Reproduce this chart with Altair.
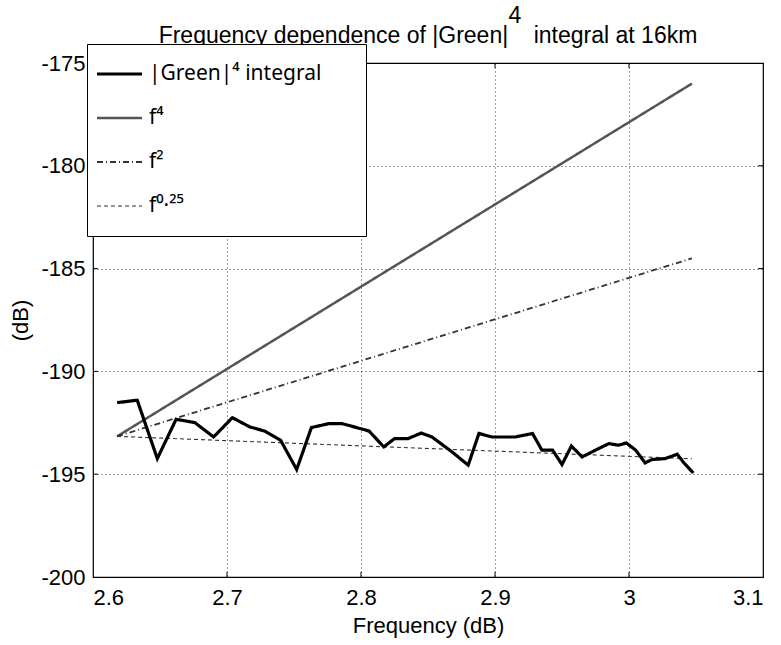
import altair as alt
import pandas as pd

FONT = "Liberation Sans"

# |Green|^4 integral (dB) vs frequency (dB)
green_x = [2.618, 2.633, 2.648, 2.662, 2.676, 2.690, 2.704, 2.717, 2.728, 2.740,
           2.752, 2.763, 2.776, 2.786, 2.806, 2.817, 2.825, 2.835, 2.845, 2.853,
           2.868, 2.880, 2.888, 2.898, 2.915, 2.928, 2.935, 2.943, 2.950, 2.957,
           2.965, 2.975, 2.985, 2.992, 2.998, 3.005, 3.012, 3.017, 3.027, 3.036,
           3.041, 3.048]
green_y = [-191.52, -191.40, -194.24, -192.33, -192.49, -193.19, -192.25, -192.70, -192.90, -193.35,
           -194.77, -192.73, -192.54, -192.54, -192.90, -193.67, -193.27, -193.27, -193.00, -193.19,
           -193.92, -194.56, -193.02, -193.19, -193.19, -193.02, -193.83, -193.83, -194.53, -193.63,
           -194.16, -193.83, -193.51, -193.59, -193.48, -193.83, -194.45, -194.29, -194.24, -194.03,
           -194.45, -194.94]

# reference power-law lines (straight in dB-dB), end points
ref_x = [2.618, 3.047]
f4_y = [-193.16, -176.0]
f2_y = [-193.16, -184.5]
f025_y = [-193.16, -194.25]

series_names = ["|Green|\u2074 integral", "f\u2074", "f\u00b2", "f\u2070\u00b7\u00b2\u2075"]

title_main = "Frequency dependence of |Green|\u00a0\u00a0\u00a0\u00a0integral at 16km"
title_sup = "4"

x_ticks = [2.6, 2.7, 2.8, 2.9, 3.0, 3.1]
y_ticks = [-200, -195, -190, -185, -180, -175]
x_domain = [2.6, 3.1]
y_domain = [-200, -175]

rows = []
for name, xs, ys in [
    (series_names[1], ref_x, f4_y),
    (series_names[2], ref_x, f2_y),
    (series_names[3], ref_x, f025_y),
    (series_names[0], green_x, green_y),
]:
    for i, (xv, yv) in enumerate(zip(xs, ys)):
        rows.append({"series": name, "x": xv, "y": yv, "i": i})
df = pd.DataFrame(rows)

# inward tick marks (MATLAB style) on all four sides
TX = 0.0037   # tick length in x units (~5 px)
TY = 0.25     # tick length in y units (~5 px)
tick_rows = []
for v in x_ticks[1:-1]:
    tick_rows.append({"x": v, "x2": v, "y": y_domain[0], "y2": y_domain[0] + TY})
    tick_rows.append({"x": v, "x2": v, "y": y_domain[1], "y2": y_domain[1] - TY})
for v in y_ticks[1:-1]:
    tick_rows.append({"x": x_domain[0], "x2": x_domain[0] + TX, "y": v, "y2": v})
    tick_rows.append({"x": x_domain[1], "x2": x_domain[1] - TX, "y": v, "y2": v})
ticks_df = pd.DataFrame(tick_rows)

xscale = alt.Scale(domain=x_domain, nice=False, zero=False)
yscale = alt.Scale(domain=y_domain, nice=False, zero=False)

LEG_TITLE = "."

lines = alt.Chart(df).mark_line(clip=True).encode(
    x=alt.X("x:Q", title="Frequency (dB)", scale=xscale,
            axis=alt.Axis(values=x_ticks, labelExpr="toString(datum.value)",
                          labelPadding=10, titlePadding=7)),
    y=alt.Y("y:Q", title="(dB)", scale=yscale,
            axis=alt.Axis(values=y_ticks, labelExpr="toString(datum.value)",
                          labelPadding=8, titlePadding=8)),
    color=alt.Color("series:N", title=LEG_TITLE,
                    scale=alt.Scale(domain=series_names,
                                    range=["#000", "#555", "#333", "#333"])),
    strokeDash=alt.StrokeDash("series:N", title=LEG_TITLE,
                              scale=alt.Scale(domain=series_names,
                                              range=[[1, 0], [1, 0], [6, 3, 1, 3], [4, 3]])),
    strokeWidth=alt.StrokeWidth("series:N", title=LEG_TITLE,
                                scale=alt.Scale(domain=series_names, range=[3.2, 1.1, 1.1, 1.1])),
    order="i:Q",
)

ticks = alt.Chart(ticks_df).mark_rule(color="#000", strokeWidth=1).encode(
    x=alt.X("x:Q", scale=xscale), x2="x2:Q",
    y=alt.Y("y:Q", scale=yscale), y2="y2:Q",
)

title_layer = alt.Chart(pd.DataFrame({"t": [title_main]})).mark_text(
    font=FONT, fontSize=23, color="#000", align="center", baseline="alphabetic"
).encode(text="t:N", x=alt.value(335), y=alt.value(-20))

sup_layer = alt.Chart(pd.DataFrame({"t": [title_sup]})).mark_text(
    font=FONT, fontSize=23, color="#000", align="center", baseline="middle"
).encode(text="t:N", x=alt.value(422), y=alt.value(-47))

chart = alt.layer(lines, ticks, title_layer, sup_layer).properties(
    width=670, height=514,
    background="#fff",
    autosize=alt.AutoSizeParams(type="none"),
    padding={"left": 93, "top": 63, "right": 18, "bottom": 68},
).configure_view(stroke="#000", strokeWidth=1.2).configure_axis(
    labelFont=FONT, labelFontSize=22, labelColor="#000",
    titleFont=FONT, titleFontSize=22, titleColor="#000", titleFontWeight="normal",
    grid=True, gridColor="#000", gridDash=[1, 3], gridOpacity=0.75, gridWidth=1,
    domain=False, ticks=False,
).configure_legend(
    orient="none", legendX=-6, legendY=-19,
    strokeColor="#000", fillColor="#fff", padding=8,
    symbolType="stroke", symbolSize=2025,
    labelFont="Noto Sans", labelFontSize=21, labelColor="#000",
    labelOffset=5, rowPadding=0, clipHeight=44, labelLimit=400,
    titleOrient="right", titlePadding=35, titleOpacity=0, titleFontSize=4,
)

chart.save("out.html", embed_options={"renderer": "svg", "actions": False})
